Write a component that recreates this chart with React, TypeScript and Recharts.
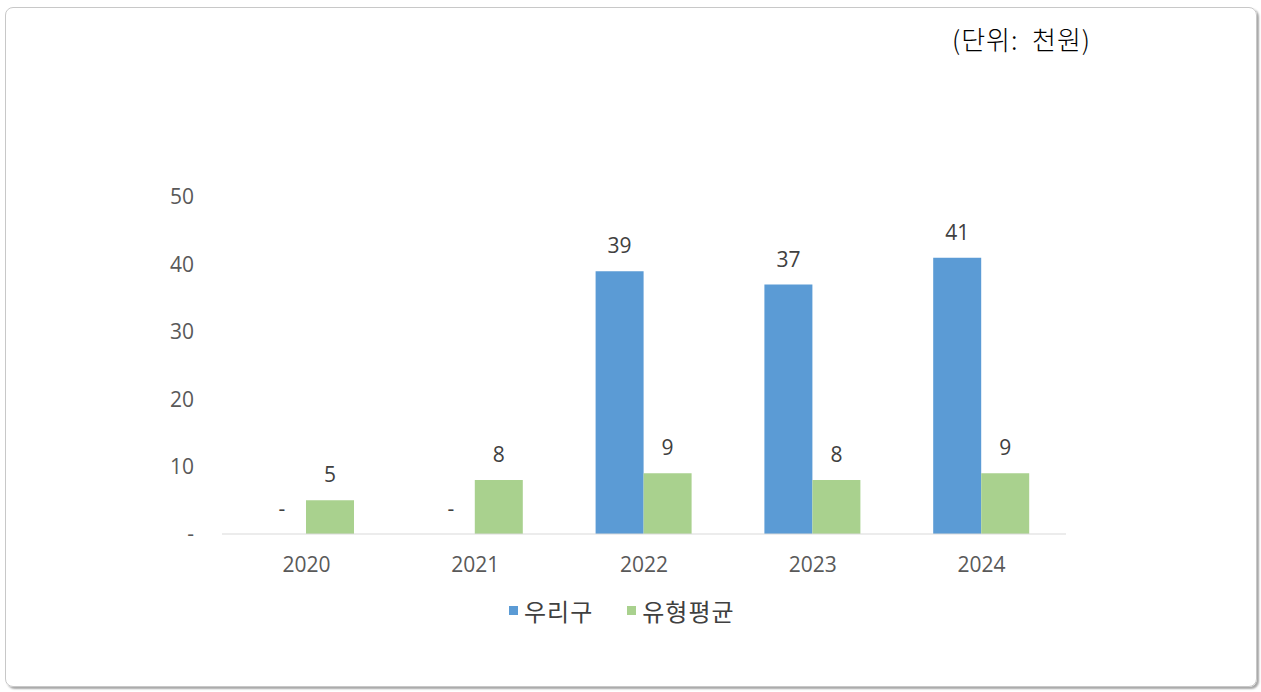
import React from "react";
import { BarChart, Bar, XAxis, YAxis, Legend, LabelList } from "recharts";

const years = ["2020", "2021", "2022", "2023", "2024"];
const ourDistrict = [0, 0, 39, 37, 41];
const typeAverage = [5, 8, 9, 8, 9];
const yTicks = [0, 10, 20, 30, 40, 50];

const SERIES = [
  { key: "ours", name: "우리구", color: "#5B9BD5" },
  { key: "avg", name: "유형평균", color: "#A9D18E" },
];

const NUM_FONT = "'Open Sans', 'Noto Sans CJK KR', sans-serif";
const KR_FONT = "'Noto Sans CJK KR', sans-serif";

const data = years.map((y, i) => ({
  year: y,
  ours: ourDistrict[i],
  avg: typeAverage[i],
}));

const dashZero = (v: number) => (v === 0 ? "-" : String(v));

// value label above each bar; zero values are drawn as "-"
function ValueLabel(props: any) {
  const { x, y, width, value } = props;
  if (x == null || y == null) return null;
  return (
    <text
      x={Number(x) + Number(width) / 2}
      y={Number(y) - 18}
      textAnchor="middle"
      style={{ fontSize: 21, fill: "#404040", fontFamily: NUM_FONT }}
    >
      {dashZero(Number(value))}
    </text>
  );
}

function LegendContent() {
  return (
    <div style={{ display: "flex", alignItems: "center", fontFamily: KR_FONT, fontSize: 24, color: "#404040" }}>
      {SERIES.map((s) => (
        <div key={s.key} style={{ display: "flex", alignItems: "center", marginRight: 34 }}>
          <span style={{ width: 9, height: 9, background: s.color, marginRight: 6, display: "inline-block" }} />
          <span style={{ letterSpacing: 1 }}>{s.name}</span>
        </div>
      ))}
    </div>
  );
}

export default function App() {
  return (
    <div style={{ position: "absolute", left: 0, top: 0, width: 1261, height: 692, background: "#fff" }}>
      <div
        style={{
          position: "absolute",
          left: 5,
          top: 7,
          width: 1250,
          height: 678,
          border: "1px solid #c8c8c8",
          borderRadius: 8,
          boxShadow: "2px 2px 2px rgba(0,0,0,0.35)",
        }}
      />
      <div
        style={{
          position: "absolute",
          left: 952,
          top: 21,
          fontFamily: KR_FONT,
          fontSize: 26,
          fontWeight: 300,
          letterSpacing: 1,
          color: "#000",
          whiteSpace: "pre",
          lineHeight: "36px",
        }}
      >
        (단위:  천원)
      </div>
      <div style={{ position: "absolute", left: 0, top: 0 }}>
        <BarChart
          width={1261}
          height={692}
          data={data}
          margin={{ top: 197, right: 195, left: 162, bottom: 83 }}
          barGap={0}
        >
          <XAxis
            dataKey="year"
            height={40}
            axisLine={{ stroke: "#d9d9d9" }}
            tickLine={false}
            tickMargin={17}
            tick={{ fontSize: 21, fill: "#595959", fontFamily: NUM_FONT }}
          />
          <YAxis
            width={60}
            domain={[0, 50]}
            ticks={yTicks}
            axisLine={false}
            tickLine={false}
            tickMargin={22}
            tickFormatter={dashZero}
            tick={{ fontSize: 21, fill: "#595959", fontFamily: NUM_FONT }}
          />
          <Legend
            verticalAlign="bottom"
            content={<LegendContent />}
            wrapperStyle={{ position: "absolute", left: 509, top: 593, width: 400, bottom: "auto" }}
          />
          {SERIES.map((s) => (
            <Bar
              key={s.key}
              dataKey={s.key}
              name={s.name}
              fill={s.color}
              barSize={48}
              minPointSize={0.01}
              isAnimationActive={false}
            >
              <LabelList dataKey={s.key} content={<ValueLabel />} />
            </Bar>
          ))}
        </BarChart>
      </div>
    </div>
  );
}
